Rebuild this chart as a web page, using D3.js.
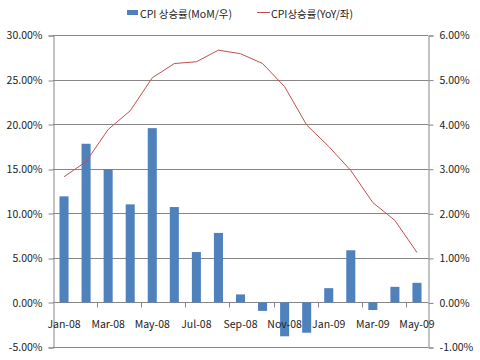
<!DOCTYPE html>
<html>
<head>
<meta charset="utf-8">
<script src="https://cdn.jsdelivr.net/npm/d3@7"></script>
<style>
  body { margin: 0; background: #fff; }
  text { font-family: "Noto Sans CJK KR", "Noto Sans", sans-serif; fill: #222; }
</style>
</head>
<body>
<script>
// Monthly data, Jan-08 .. May-09
const months = ["Jan-08", "Feb-08", "Mar-08", "Apr-08", "May-08", "Jun-08", "Jul-08", "Aug-08",
    "Sep-08", "Oct-08", "Nov-08", "Dec-08", "Jan-09", "Feb-09", "Mar-09", "Apr-09", "May-09"];
// MoM (right axis, %)
const momValues = [2.38, 3.56, 2.99, 2.20, 3.91, 2.14, 1.13, 1.56, 0.18, -0.19, -0.76, -0.68,
    0.32, 1.17, -0.17, 0.35, 0.44];
// YoY (left axis, %)
const yoyValues = [14.1, 15.8, 19.4, 21.5, 25.2, 26.8, 27.0, 28.3, 27.9, 26.8, 24.2, 19.9,
    17.5, 14.8, 11.2, 9.2, 5.6];
const leftTicks = [-5, 0, 5, 10, 15, 20, 25, 30];
const rightTicks = [-1, 0, 1, 2, 3, 4, 5, 6];
const seriesNames = ["CPI 상승률(MoM/우)", "CPI상승률(YoY/좌)"];

const W = 480, H = 360;
const margin = {top: 35, right: 52, bottom: 13, left: 53};
const gridColor = "#868686";

const svg = d3.select("body").append("svg")
    .attr("width", W)
    .attr("height", H);

const x = d3.scaleBand()
    .domain(months)
    .range([margin.left, W - margin.right])
    .paddingInner(0.59)
    .paddingOuter(0.295);

const yL = d3.scaleLinear().domain([-5, 30]).range([H - margin.bottom, margin.top]);
const yR = d3.scaleLinear().domain([-1, 6]).range([H - margin.bottom, margin.top]);

const fmt = d => d.toFixed(2) + "%";

// gridlines
svg.append("g")
    .selectAll("line")
    .data(leftTicks)
    .join("line")
    .attr("x1", margin.left)
    .attr("x2", W - margin.right)
    .attr("y1", d => Math.round(yL(d)) + 0.5)
    .attr("y2", d => Math.round(yL(d)) + 0.5)
    .attr("stroke", gridColor);

// left axis
const axL = svg.append("g")
    .attr("transform", `translate(${margin.left + 0.5},0.5)`)
    .call(d3.axisLeft(yL).tickValues(leftTicks).tickFormat(fmt).tickSize(5).tickPadding(6));
axL.selectAll(".tick line").attr("transform", d => `translate(0,${Math.round(yL(d)) - yL(d)})`);

// right axis
const axR = svg.append("g")
    .attr("transform", `translate(${W - margin.right + 0.5},0.5)`)
    .call(d3.axisRight(yR).tickValues(rightTicks).tickFormat(fmt).tickSize(5).tickPadding(6));

[axL, axR].forEach(ax => {
    ax.select(".domain").attr("stroke", gridColor);
    ax.selectAll(".tick line").attr("stroke", gridColor);
    ax.selectAll(".tick text").style("font-size", "10.5px").attr("fill", "#222");
});

// category ticks at every second boundary, hanging below zero line
const step = x.step();
const boundaries = d3.range(2, months.length, 2);
const y0 = Math.round(yL(0)) + 0.5;
svg.append("g")
    .selectAll("line")
    .data(boundaries)
    .join("line")
    .attr("x1", k => Math.round(margin.left + k * step) + 0.5)
    .attr("x2", k => Math.round(margin.left + k * step) + 0.5)
    .attr("y1", y0)
    .attr("y2", y0 + 5)
    .attr("stroke", gridColor);

// bars (right axis)
svg.append("g")
    .selectAll("rect")
    .data(momValues)
    .join("rect")
    .attr("x", (d, i) => x(months[i]))
    .attr("width", x.bandwidth())
    .attr("y", d => yR(Math.max(0, d)))
    .attr("height", d => Math.abs(yR(d) - yR(0)))
    .attr("fill", "#4F81BD");

// line (left axis)
const line = d3.line()
    .x((d, i) => x(months[i]) + x.bandwidth() / 2)
    .y(d => yL(d));
svg.append("path")
    .datum(yoyValues)
    .attr("d", line)
    .attr("fill", "none")
    .attr("stroke", "#C0504D")
    .attr("stroke-width", 1);

// x labels every other month
svg.append("g")
    .selectAll("text")
    .data(months.filter((m, i) => i % 2 === 0))
    .join("text")
    .attr("x", m => x(m) + x.bandwidth() / 2)
    .attr("y", yL(0) + 26)
    .attr("text-anchor", "middle")
    .style("font-size", "10.5px")
    .text(m => m);

// legend
const lg = svg.append("g").attr("transform", "translate(0,14)");
lg.append("rect").attr("x", 127).attr("y", -4).attr("width", 11).attr("height", 5).attr("fill", "#4F81BD");
lg.append("text").attr("x", 140).attr("y", 4).style("font-size", "10.5px").text(seriesNames[0]);
lg.append("line").attr("x1", 257).attr("x2", 270).attr("y1", -1.5).attr("y2", -1.5)
    .attr("stroke", "#C0504D");
lg.append("text").attr("x", 271).attr("y", 4).style("font-size", "10.5px").text(seriesNames[1]);
</script>
</body>
</html>
